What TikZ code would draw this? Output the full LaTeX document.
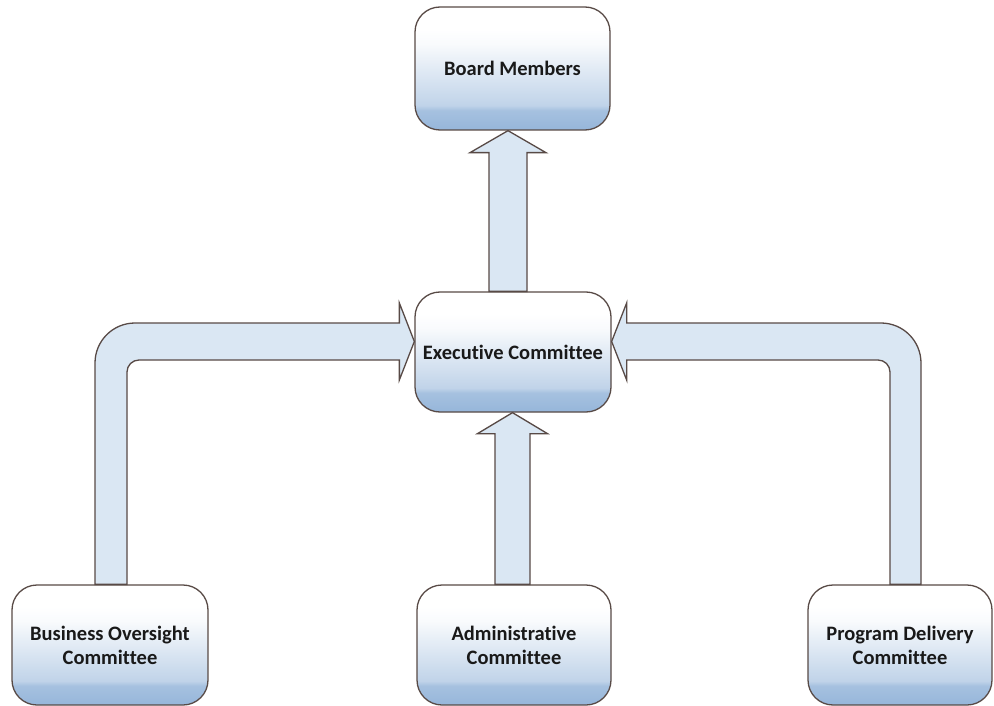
\documentclass[tikz,border=0pt]{standalone}
\usepackage{fontspec}
\setmainfont{Carlito}[Ligatures=NoCommon]
\usetikzlibrary{calc}
\definecolor{boxblue}{RGB}{150,182,218}
\definecolor{arrowfill}{RGB}{218,231,243}
\definecolor{edgecol}{RGB}{88,74,70}
\pgfdeclareverticalshading{boxshade}{100bp}{color(0bp)=(boxblue); color(25bp)=(boxblue); color(33bp)=(boxblue!85!white); color(35bp)=(boxblue!60!white); color(50bp)=(boxblue!28!white); color(60bp)=(boxblue!6!white); color(66bp)=(white); color(100bp)=(white)}
\tikzset{
  orgbox/.style={draw=edgecol, line width=1.3pt, rounded corners=25pt, shading=boxshade,
    align=center, inner sep=0pt, font=\fontsize{20.5}{24}\selectfont\bfseries, text=black!90},
  blockarrow/.style={draw=edgecol, fill=arrowfill, line width=1.3pt, line join=miter}
}
\begin{document}
\begin{tikzpicture}[x=1pt,y=1pt]
\useasboundingbox (0,0) rectangle (994,-706);
\fill[white] (0,0) rectangle (994,-706);

\node[orgbox, minimum width=195pt, minimum height=123pt] (board) at (512.5,-68.5) {Board Members};
\node[orgbox, minimum width=196pt, minimum height=120pt] (exec) at (513,-352) {Executive Committee};
\node[orgbox, minimum width=194pt, minimum height=120pt] (admin) at (514,-645) {Administrative\\Committee};
\node[orgbox, minimum width=196pt, minimum height=120pt] (bus) at (110,-645) {Business Oversight\\Committee};
\node[orgbox, minimum width=184pt, minimum height=120pt] (prog) at (900,-645) {Program Delivery\\Committee};

% Executive -> Board
\path[blockarrow] let \p1=($(exec.north)+(-5,0)$), \p2=(board.south) in
  (\x1-19pt,\y1) -- (\x1-19pt,\y2-22pt) -- (\x1-38pt,\y2-22pt) -- (\x1,\y2)
  -- (\x1+38pt,\y2-22pt) -- (\x1+19pt,\y2-22pt) -- (\x1+19pt,\y1) -- cycle;

% Administrative -> Executive
\path[blockarrow] let \p1=($(admin.north)+(-1.5,0)$), \p2=(exec.south) in
  (\x1-17.5pt,\y1) -- (\x1-17.5pt,\y2-21pt) -- (\x1-35pt,\y2-21pt) -- (\x1,\y2)
  -- (\x1+35pt,\y2-21pt) -- (\x1+17.5pt,\y2-21pt) -- (\x1+17.5pt,\y1) -- cycle;

% Business Oversight -> Executive
\path[blockarrow] let \p1=($(bus.north)+(1,0)$), \p2=(exec.west), \p3=($(exec.west)+(0,10.5)$) in
  (\x1-16pt,\y1) -- (\x1-16pt,\y3+18.5pt-40pt)
  arc[start angle=180, end angle=90, radius=40pt]
  -- (\x2-15pt,\y3+18.5pt) -- (\x2-15pt,\y3+38.5pt) -- (\x2,\y3)
  -- (\x2-15pt,\y3-38.5pt) -- (\x2-15pt,\y3-18.5pt)
  -- (\x1+28pt,\y3-18.5pt)
  arc[start angle=90, end angle=180, radius=12pt]
  -- (\x1+16pt,\y1) -- cycle;

% Program Delivery -> Executive
\path[blockarrow] let \p1=($(prog.north)+(5.5,0)$), \p2=(exec.east), \p3=($(exec.east)+(0,10.5)$) in
  (\x1+15.5pt,\y1) -- (\x1+15.5pt,\y3+18.5pt-40pt)
  arc[start angle=0, end angle=90, radius=40pt]
  -- (\x2+15pt,\y3+18.5pt) -- (\x2+15pt,\y3+38.5pt) -- (\x2,\y3)
  -- (\x2+15pt,\y3-38.5pt) -- (\x2+15pt,\y3-18.5pt)
  -- (\x1-27.5pt,\y3-18.5pt)
  arc[start angle=90, end angle=0, radius=12pt]
  -- (\x1-15.5pt,\y1) -- cycle;
\end{tikzpicture}
\end{document}
